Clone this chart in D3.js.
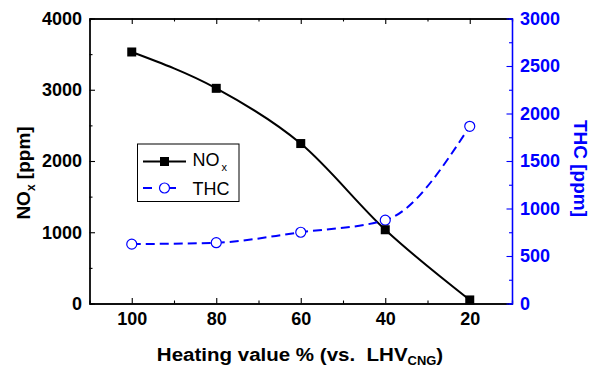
<!DOCTYPE html>
<html>
<head>
<meta charset="utf-8">
<script src="https://d3js.org/d3.v7.min.js"></script>
<style>
  body { margin: 0; background: #fff; }
  svg { font-family: "Liberation Sans", Arial, sans-serif; }
  text { white-space: pre; }
</style>
</head>
<body>
<div id="chart"></div>
<script>
// data
const heating = [100, 80, 60, 40, 20];
const noxValues = [3530, 3020, 2245, 1035, 50];
const thcValues = [625, 640, 750, 877, 1865];
const xTicks = [100, 80, 60, 40, 20];
const noxTicks = [0, 1000, 2000, 3000, 4000];
const thcTicks = [0, 500, 1000, 1500, 2000, 2500, 3000];

const width = 590, height = 369;
const margin = {left: 89.5, right: 78, top: 18.5, bottom: 65.5};
const blue = "#0000ff";

const svg = d3.select("#chart").append("svg")
    .attr("width", width)
    .attr("height", height);

const x = d3.scaleLinear().domain([110, 10]).range([margin.left, width - margin.right]);
const yL = d3.scaleLinear().domain([0, 4000]).range([height - margin.bottom, margin.top]);
const yR = d3.scaleLinear().domain([0, 3000]).range([height - margin.bottom, margin.top]);

const x0 = margin.left, x1 = width - margin.right;
const y0 = height - margin.bottom, y1 = margin.top;

// minor tick values
const xMinor = d3.range(90, 10, -20);
const yLMinor = d3.range(500, 4000, 1000);
const yRMinor = d3.range(250, 3000, 500);

const fmt = d3.format("d");
const g = svg.append("g");

// bottom axis (ticks inside)
const axBottom = g.append("g").attr("transform", `translate(0,${y0})`);
axBottom.call(d3.axisBottom(x).tickValues(xTicks).tickFormat(fmt).tickSize(-5.5).tickPadding(9).tickSizeOuter(0));
axBottom.append("g").call(d3.axisBottom(x).tickValues(xMinor).tickSize(-3).tickFormat(""));
// top axis mirror
const axTop = g.append("g").attr("transform", `translate(0,${y1})`);
axTop.call(d3.axisTop(x).tickValues(xTicks).tickSize(-5.5).tickFormat("").tickSizeOuter(0));
axTop.append("g").call(d3.axisTop(x).tickValues(xMinor).tickSize(-3).tickFormat(""));

// left axis
const axLeft = g.append("g").attr("transform", `translate(${x0},0)`);
axLeft.call(d3.axisLeft(yL).tickValues(noxTicks).tickFormat(fmt).tickSize(-5.5).tickPadding(7.5).tickSizeOuter(0));
axLeft.append("g").call(d3.axisLeft(yL).tickValues(yLMinor).tickSize(-3).tickFormat(""));

// right axis (blue)
const axRight = g.append("g").attr("transform", `translate(${x1},0)`);
axRight.call(d3.axisRight(yR).tickValues(thcTicks).tickFormat(fmt).tickSize(-5.5).tickPadding(8).tickSizeOuter(0));
axRight.append("g").call(d3.axisRight(yR).tickValues(yRMinor).tickSize(-3).tickFormat(""));

g.selectAll(".domain").attr("stroke", "#000").attr("stroke-width", 1.3);
g.selectAll(".tick line").attr("stroke", "#000").attr("stroke-width", 1.1);
g.selectAll(".tick text")
    .attr("font-size", 18)
    .attr("font-weight", "bold")
    .attr("font-family", "Liberation Sans, Arial, sans-serif")
    .attr("fill", "#000");
axRight.selectAll(".domain").attr("stroke", blue);
axRight.selectAll(".tick line").attr("stroke", blue);
axRight.selectAll(".tick text").attr("fill", blue);

// smooth curves through the points
const line = d3.line().curve(d3.curveMonotoneX);
const noxPts = heating.map((h, i) => [x(h), yL(noxValues[i])]);
const thcPts = heating.map((h, i) => [x(h), yR(thcValues[i])]);

svg.append("path")
    .attr("d", line(noxPts))
    .attr("fill", "none")
    .attr("stroke", "#000")
    .attr("stroke-width", 2);

svg.append("path")
    .attr("d", line(thcPts))
    .attr("fill", "none")
    .attr("stroke", blue)
    .attr("stroke-width", 2)
    .attr("stroke-dasharray", "9,5");

svg.selectAll(".thc-pt")
    .data(thcPts)
    .enter().append("circle")
    .attr("cx", d => d[0])
    .attr("cy", d => d[1])
    .attr("r", 5)
    .attr("fill", "#fff")
    .attr("stroke", blue)
    .attr("stroke-width", 1.2);

svg.selectAll(".nox-pt")
    .data(noxPts)
    .enter().append("rect")
    .attr("x", d => d[0] - 4.5)
    .attr("y", d => d[1] - 4.5)
    .attr("width", 9)
    .attr("height", 9)
    .attr("fill", "#000");

// legend
const leg = svg.append("g");
leg.append("rect")
    .attr("x", 137.5).attr("y", 144)
    .attr("width", 101.5).attr("height", 57.5)
    .attr("fill", "#fff").attr("stroke", "#000").attr("stroke-width", 1);
leg.append("line").attr("x1", 143).attr("x2", 186).attr("y1", 161.5).attr("y2", 161.5)
    .attr("stroke", "#000").attr("stroke-width", 2);
leg.append("rect").attr("x", 160).attr("y", 157).attr("width", 9).attr("height", 9).attr("fill", "#000");
leg.append("line").attr("x1", 143).attr("x2", 186).attr("y1", 188).attr("y2", 188)
    .attr("stroke", blue).attr("stroke-width", 2).attr("stroke-dasharray", "9,15");
leg.append("circle").attr("cx", 164.5).attr("cy", 188).attr("r", 5)
    .attr("fill", "#fff").attr("stroke", blue).attr("stroke-width", 1.2);
const lt1 = leg.append("text").attr("x", 192.5).attr("y", 166).attr("font-size", 18);
lt1.append("tspan").text("NO");
lt1.append("tspan").attr("font-size", 11).attr("dy", 5).attr("dx", 2).text("x");
leg.append("text").attr("x", 192.5).attr("y", 194.5).attr("font-size", 18).text("THC");

// axis titles
const xt = svg.append("text")
    .attr("transform", "translate(300,361) scale(1.08,1)")
    .attr("text-anchor", "middle")
    .attr("font-size", 19).attr("font-weight", "bold");
xt.append("tspan").text("Heating value % (vs.  LHV");
xt.append("tspan").attr("font-size", 12).attr("dy", 4).text("CNG");
xt.append("tspan").attr("dy", -4).text(")");

const ylt = svg.append("text")
    .attr("transform", "translate(30,173) rotate(-90)")
    .attr("text-anchor", "middle")
    .attr("font-size", 19).attr("font-weight", "bold");
ylt.append("tspan").text("NO");
ylt.append("tspan").attr("font-size", 12).attr("dy", 5).text("x");
ylt.append("tspan").attr("dy", -5).text(" [ppm]");

svg.append("text")
    .attr("transform", "translate(574,168.5) rotate(90)")
    .attr("text-anchor", "middle")
    .attr("font-size", 19).attr("font-weight", "bold")
    .attr("fill", blue)
    .text("THC [ppm]");
</script>
</body>
</html>
